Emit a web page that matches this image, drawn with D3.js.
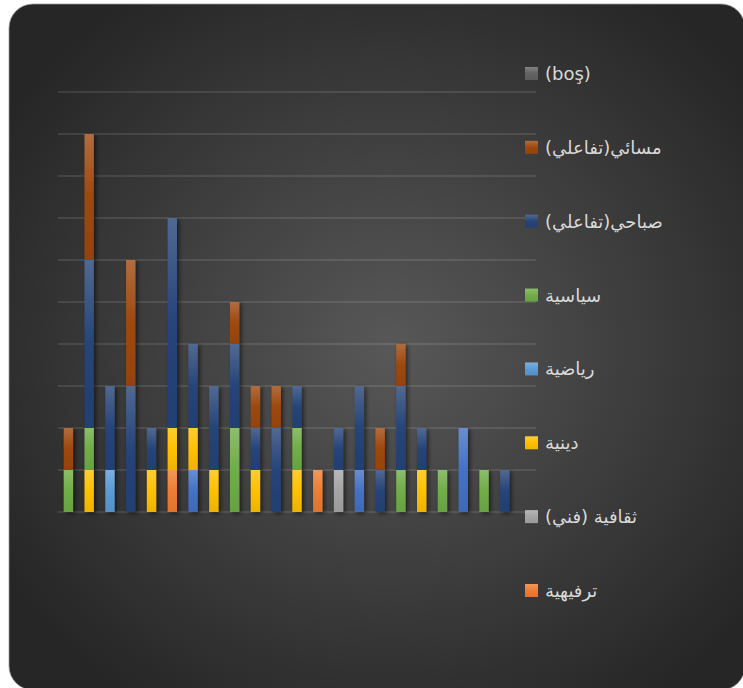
<!DOCTYPE html>
<html>
<head>
<meta charset="utf-8">
<script src="https://cdn.jsdelivr.net/npm/d3@7"></script>
<style>
  html, body { margin: 0; padding: 0; background: #ffffff; }
  svg { display: block; }
</style>
</head>
<body>
<svg id="chart" width="743" height="688"></svg>
<script>
// ---- Data ----
const categories = ["1","2","3","4","5","6","7","8","9","10","11","12","13","14","15","16","17","18","19","20","21","22","23"];
const seriesNames = ["سلسلة1", "ترفيهية", "ثقافية (فني)", "دينية", "رياضية", "سياسية", "صباحي(تفاعلي)", "مسائي(تفاعلي)", "(boş)"];
const seriesColors = ["#4472C4", "#ED7D31", "#A5A5A5", "#FFC000", "#5B9BD5", "#70AD47", "#264478", "#9E480E", "#636363"];
const legendSeries = ["(boş)", "مسائي(تفاعلي)", "صباحي(تفاعلي)", "سياسية", "رياضية", "دينية", "ثقافية (فني)", "ترفيهية"];

const s1Values      = [0,0,0,0,0,0,1,0,0,0,0,0,0,0,1,0,0,0,0,2,0,0,0];
const tarfihValues  = [0,0,0,0,0,1,0,0,0,0,0,0,1,0,0,0,0,0,0,0,0,0,0];
const thaqafValues  = [0,0,0,0,0,0,0,0,0,0,0,0,0,1,0,0,0,0,0,0,0,0,0];
const diniValues    = [0,1,0,0,1,1,1,1,0,1,0,1,0,0,0,0,0,1,0,0,0,0,0];
const riyadiValues  = [0,0,1,0,0,0,0,0,0,0,0,0,0,0,0,0,0,0,0,0,0,0,0];
const siyasiValues  = [1,1,0,0,0,0,0,0,2,0,0,1,0,0,0,0,1,0,1,0,1,0,0];
const sabahiValues  = [0,4,2,3,1,5,2,2,2,1,2,1,0,1,2,1,2,1,0,0,0,1,0];
const masaiValues   = [1,3,0,3,0,0,0,0,1,1,1,0,0,0,0,1,1,0,0,0,0,0,0];
const boshValues    = [0,0,0,0,0,0,0,0,0,0,0,0,0,0,0,0,0,0,0,0,0,0,0];
const seriesValues = [s1Values, tarfihValues, thaqafValues, diniValues, riyadiValues, siyasiValues, sabahiValues, masaiValues, boshValues];
const yTicks = [0,1,2,3,4,5,6,7,8,9,10];

// ---- Layout ----
const W = 743, H = 688;
const plot = { left: 58, right: 536, top: 92, bottom: 512 };

const svg = d3.select("#chart");
const defs = svg.append("defs");

// background gradient
const bg = defs.append("radialGradient").attr("id", "bgGrad")
  .attr("cx", "52%").attr("cy", "50%").attr("r", "62%");
bg.append("stop").attr("offset", "0%").attr("stop-color", "#585858");
bg.append("stop").attr("offset", "100%").attr("stop-color", "#262626");

svg.append("rect")
  .attr("x", 9).attr("y", 4).attr("width", 736).attr("height", 686)
  .attr("rx", 24).attr("ry", 24)
  .attr("fill", "url(#bgGrad)")
  .attr("stroke", "#9a9a9a").attr("stroke-width", 0.75);

// bar gradients
seriesColors.forEach((c, i) => {
  const g = defs.append("linearGradient").attr("id", "sg" + i)
    .attr("x1", 0).attr("y1", 0).attr("x2", 0).attr("y2", 1);
  g.append("stop").attr("offset", "0%").attr("stop-color", d3.interpolateRgb(c, "#ffffff")(0.2));
  g.append("stop").attr("offset", "50%").attr("stop-color", c);
  g.append("stop").attr("offset", "100%").attr("stop-color", d3.rgb(c).darker(0.2));
});

// shadow filter
const f = defs.append("filter").attr("id", "shadow")
  .attr("x", "-50%").attr("y", "-10%").attr("width", "200%").attr("height", "120%");
f.append("feDropShadow").attr("dx", 2).attr("dy", 1.5).attr("stdDeviation", 2.2)
  .attr("flood-color", "#000").attr("flood-opacity", 0.55);

// scales
const x = d3.scaleBand().domain(categories).range([plot.left, plot.right])
  .paddingInner(0.55).paddingOuter(0.275);
const y = d3.scaleLinear().domain([0, 10]).range([plot.bottom, plot.top]);

// gridlines
svg.append("g").selectAll("line").data(yTicks).join("line")
  .attr("x1", plot.left).attr("x2", plot.right)
  .attr("y1", d => y(d)).attr("y2", d => y(d))
  .attr("stroke", "#ffffff").attr("stroke-opacity", 0.1).attr("stroke-width", 2);

// stack
const table = categories.map((c, ci) => {
  const row = { cat: c };
  seriesNames.forEach((s, si) => row[s] = seriesValues[si][ci]);
  return row;
});
const stacked = d3.stack().keys(seriesNames)(table);

const layers = svg.append("g").attr("filter", "url(#shadow)");
stacked.forEach((layer, si) => {
  layers.append("g").selectAll("rect")
    .data(layer.filter(d => d[1] - d[0] > 0))
    .join("rect")
    .attr("x", d => x(d.data.cat))
    .attr("width", x.bandwidth())
    .attr("y", d => y(d[1]))
    .attr("height", d => y(d[0]) - y(d[1]))
    .attr("fill", "url(#sg" + si + ")");
});

// legend
const legY = d3.scalePoint().domain(legendSeries).range([73.5, 590.5]);
const leg = svg.append("g");
legendSeries.forEach(name => {
  const si = seriesNames.indexOf(name);
  const cy = legY(name);
  leg.append("rect")
    .attr("x", 525).attr("y", cy - 6.5).attr("width", 13).attr("height", 13)
    .attr("fill", "url(#sg" + si + ")");
  const isArabic = /[\u0600-\u06FF]/.test(name);
  leg.append("text")
    .attr("x", 545).attr("y", cy)
    .attr("dy", "0.36em")
    .attr("direction", isArabic ? "rtl" : "ltr")
    .attr("text-anchor", isArabic ? "end" : "start")
    .attr("font-family", "'DejaVu Sans', sans-serif")
    .attr("font-size", 18)
    .attr("fill", "#d9d9d9")
    .text(name);
});
</script>
</body>
</html>
